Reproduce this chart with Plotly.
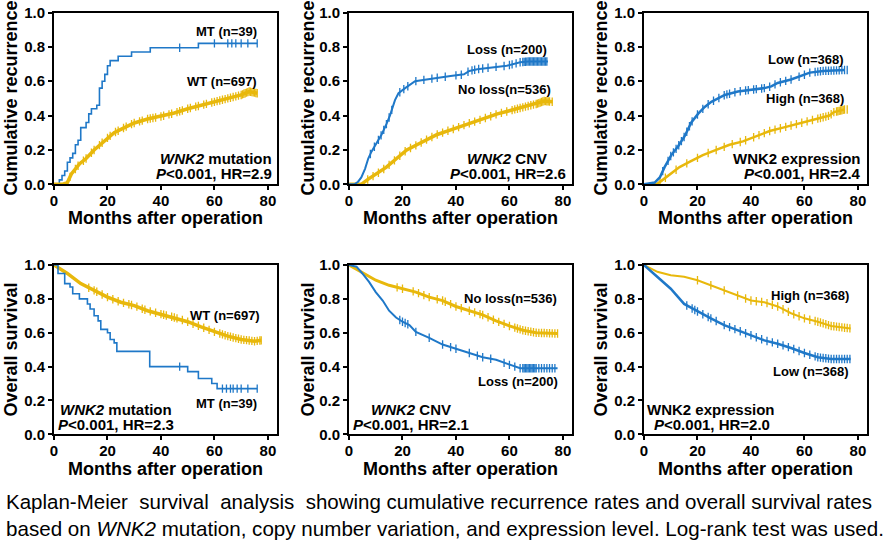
import numpy as np
import plotly.graph_objects as go

BLUE = "#1f78c8"
GOLD = "#e8b80c"

x_ticks = [0, 20, 40, 60, 80]
y_ticks = [0.0, 0.2, 0.4, 0.6, 0.8, 1.0]

# ---------- Panel 1: recurrence by WNK2 mutation ----------
rec_mut_mt_t = [0, 2, 3, 4, 5, 6, 7, 8, 9, 10, 11, 12, 13, 14, 16, 17, 18, 19, 20, 21, 22, 24, 29, 36, 54, 76]
rec_mut_mt_v = [0, .026, .051, .077, .128, .154, .18, .23, .256, .33, .33, .36, .41, .44, .46, .56, .60, .64, .69, .72, .72, .745, .77, .795, .82, .82]
rec_mut_mt_c = [47, 60, 65, 66.5, 68, 70, 72.5, 76]
rec_mut_wt_t = [0, 3, 5, 6.5, 9.6, 12, 15, 17.5, 20, 22.5, 25, 27.5, 30, 35, 40, 45, 50, 55, 60, 65, 70, 73, 76]
rec_mut_wt_v = [0, 0, .01, .06, .12, .15, .20, .235, .27, .30, .32, .34, .357, .38, .395, .415, .44, .46, .48, .50, .52, .54, .53]
rec_mut_wt_c = [6, 8, 9, 11, 12, 14, 15, 17, 18, 20, 21, 23, 24, 26, 27, 29, 30, 32, 33, 35, 36, 37, 38, 40, 41, 43,
                44, 46, 47, 48, 50, 51, 53, 54, 56, 57, 59, 60, 61, 62, 63, 64, 65, 66, 67, 68, 69, 70, 70.5, 71,
                71.5, 72, 72.5, 73, 73.5, 74, 74.5, 75, 75.5, 76]

# ---------- Panel 2: recurrence by WNK2 CNV ----------
rec_cnv_loss_t = [0, 2, 3.4, 4.6, 6, 7.2, 8.4, 10.3, 12.2, 14, 15.3, 17.2, 18.5, 21, 22.9, 24.7, 29, 33, 38, 43, 45, 48, 53, 59, 64, 67, 74.4]
rec_cnv_loss_v = [0, 0, .015, .04, .09, .15, .19, .24, .29, .35, .40, .49, .53, .56, .58, .60, .61, .62, .63, .64, .66, .67, .68, .69, .71, .715, .715]
rec_cnv_loss_c = [8, 9.5, 11, 12, 13, 14, 15, 16, 19, 20.5, 22, 25, 28, 31, 33, 36, 40, 42, 44.5, 46, 47, 48.5, 50, 52,
                  55, 58, 60, 61, 62.5, 64, 65, 65.5, 66, 66.5, 67, 67.5, 68, 68.5, 69, 69.5, 70, 70.5, 71, 71.5, 72,
                  72.5, 73, 73.5, 74]
rec_cnv_no_t = [0, 4.6, 7.2, 10.3, 14, 17.8, 21.6, 25.4, 29, 33, 36.7, 40.5, 44, 48, 51.8, 55.5, 59.3, 63, 66.8, 70.6, 73, 76.2]
rec_cnv_no_v = [0, 0, .03, .06, .10, .15, .20, .23, .26, .29, .31, .33, .35, .37, .39, .41, .425, .44, .455, .47, .485, .48]
rec_cnv_no_c = [7, 9, 11, 13, 15, 17, 19, 21, 23, 25, 27, 29, 31, 33, 35, 37, 39, 41, 43, 45, 47, 49, 51, 53, 55, 57,
                59, 61, 62, 63, 64, 65, 66, 67, 68, 69, 70, 70.5, 71, 71.5, 72, 72.5, 73, 73.5, 74, 74.5, 75, 76]

# ---------- Panel 3: recurrence by WNK2 expression ----------
rec_exp_low_t = [0, 4, 5.9, 7.7, 10.2, 12.7, 15.2, 17.7, 20.2, 22.7, 25.2, 27.7, 30.2, 35.1, 40, 45, 47.6, 50, 55, 58.8, 62, 67, 75]
rec_exp_low_v = [0, .01, .04, .10, .17, .22, .28, .36, .41, .45, .48, .50, .52, .54, .55, .56, .57, .59, .61, .63, .65, .66, .665]
rec_exp_low_c = [7, 9, 10, 11, 12, 13, 14, 15, 16, 17, 18, 20, 22, 24, 26, 28, 30, 31, 32, 34, 36, 38, 39, 41, 42, 44,
                 45, 47, 49, 51, 53, 55, 58, 60, 62, 64, 65, 66, 67, 68, 69, 70, 71, 72, 73, 74, 75, 76]
rec_exp_high_t = [0, 4.6, 6.5, 9, 13.3, 17, 22, 27, 32, 37, 42, 47, 52, 57, 62, 67, 69.4, 71, 75]
rec_exp_high_v = [0, 0, .02, .05, .10, .13, .17, .20, .23, .25, .28, .31, .33, .35, .37, .39, .40, .42, .435]
rec_exp_high_c = [6, 8, 12, 16, 20, 24, 27, 30, 33, 36, 38, 41, 43, 45, 47, 49, 51, 53, 55, 57, 59, 61, 63, 65, 66,
                  67, 68, 69, 70, 71, 72, 72.5, 73, 73.5, 74, 74.5, 75, 76]

# ---------- Panel 4: overall survival by WNK2 mutation ----------
os_mut_mt_t = [0, 1.5, 4, 6, 7, 9.5, 12.5, 13.5, 15, 16.5, 17.5, 18, 20, 21, 22.5, 23.5, 35.8, 50, 54, 59, 61, 76]
os_mut_mt_v = [1, .95, .89, .87, .83, .80, .77, .74, .70, .67, .62, .62, .60, .56, .54, .49, .40, .37, .33, .30, .27, .27]
os_mut_mt_c = [47, 63, 64.5, 66, 67, 68.5, 70, 72.5, 76]
os_mut_wt_t = [0, 5, 10, 15, 20, 25, 30, 35, 40, 45, 50, 55, 60, 65, 70, 75, 77.5]
os_mut_wt_v = [1, .95, .89, .85, .81, .78, .76, .73, .71, .69, .665, .635, .605, .58, .56, .55, .555]
os_mut_wt_c = [13, 15, 16, 18, 20, 22, 24, 26, 28, 29, 31, 33, 34, 36, 38, 40, 41, 42, 44, 45, 46, 48, 50, 52, 54,
               56, 58, 60, 62, 63, 64, 65, 66, 67, 68, 69, 70, 71, 72, 73, 74, 75, 76, 77, 77.5]

# ---------- Panel 5: overall survival by WNK2 CNV ----------
os_cnv_no_t = [0, 5, 10, 15, 20, 25, 30, 35, 40, 45, 50, 55, 60, 65, 70, 78]
os_cnv_no_v = [1, .955, .91, .88, .86, .84, .81, .79, .755, .73, .705, .67, .64, .615, .60, .595]
os_cnv_no_c = [18, 20, 24, 26, 28, 30, 33, 35, 36, 38, 40, 42, 45, 47, 49, 50, 52, 54, 56, 58, 60, 62, 63, 64, 65,
               66, 67, 68, 69, 70, 71, 72, 73, 74, 75, 76, 77, 78]
os_cnv_loss_t = [0, 2.8, 5, 7.5, 10, 12.6, 15, 17.6, 20, 22.6, 25, 30, 35, 40, 45, 50, 55, 60, 64, 78]
os_cnv_loss_v = [1, .99, .95, .90, .84, .79, .73, .69, .665, .645, .605, .57, .53, .505, .48, .455, .44, .41, .39, .39]
os_cnv_loss_c = [19, 20, 21, 22, 25, 30, 35, 38, 40, 45, 48, 50, 53, 58, 60, 62, 64, 65, 65.5, 66, 66.5, 67, 67.5,
                 68, 68.5, 69, 69.5, 70, 71, 72, 73, 74, 75, 76, 77]

# ---------- Panel 6: overall survival by WNK2 expression ----------
os_exp_high_t = [0, 5, 10, 15, 20, 25, 30, 35, 40, 45, 50, 55, 60, 65, 70, 77.3]
os_exp_high_v = [1, .96, .94, .93, .91, .88, .85, .82, .79, .78, .755, .715, .685, .665, .64, .625]
os_exp_high_c = [20, 25, 30, 35, 38, 40, 42, 44, 46, 48, 50, 52, 54, 56, 58, 60, 62, 64, 65, 66, 67, 68, 69, 70,
                 71, 72, 73, 74, 75, 76, 77]
os_exp_low_t = [0, 5, 10, 15, 20, 25, 30, 35, 40, 45, 50, 55, 60, 65, 70, 77.3]
os_exp_low_v = [1, .93, .86, .77, .725, .685, .645, .615, .585, .555, .535, .51, .48, .455, .445, .445]
os_exp_low_c = [16, 18, 19, 20, 22, 24, 25, 27, 30, 32, 34, 36, 38, 40, 42, 44, 46, 48, 50, 52, 54, 56, 58, 60, 62,
                64, 65, 66, 67, 68, 69, 70, 71, 72, 73, 74, 75, 76, 77]

W, H = 890, 544
col_px = [(54, 277), (349, 572), (644, 867)]
row_px = [(12.5, 184.3), (265, 434.3)]
XMAX = 83.4

fig = go.Figure()

def step_lookup(t, v, c):
    t = np.asarray(t); v = np.asarray(v)
    idx = np.searchsorted(t, np.asarray(c), side="right") - 1
    return v[np.clip(idx, 0, len(v) - 1)]

def add_curve(k, t, v, cens, color, width, step):
    xa, ya = f"x{k}" if k > 1 else "x", f"y{k}" if k > 1 else "y"
    fig.add_trace(go.Scatter(x=t, y=v, mode="lines", xaxis=xa, yaxis=ya,
                             line=dict(color=color, width=width, shape="hv" if step else "linear"),
                             showlegend=False, hoverinfo="skip"))
    cy = step_lookup(t, v, cens) if step else np.interp(cens, t, v)
    fig.add_trace(go.Scatter(x=cens, y=cy, mode="markers", xaxis=xa, yaxis=ya,
                             marker=dict(symbol="line-ns", size=6, line=dict(color=color, width=1.3)),
                             showlegend=False, hoverinfo="skip"))

add_curve(1, rec_mut_mt_t, rec_mut_mt_v, rec_mut_mt_c, BLUE, 1.6, True)
add_curve(1, rec_mut_wt_t, rec_mut_wt_v, rec_mut_wt_c, GOLD, 3.5, False)
add_curve(2, rec_cnv_no_t, rec_cnv_no_v, rec_cnv_no_c, GOLD, 3.5, False)
add_curve(2, rec_cnv_loss_t, rec_cnv_loss_v, rec_cnv_loss_c, BLUE, 2, False)
add_curve(3, rec_exp_high_t, rec_exp_high_v, rec_exp_high_c, GOLD, 2.5, False)
add_curve(3, rec_exp_low_t, rec_exp_low_v, rec_exp_low_c, BLUE, 2.5, False)
add_curve(4, os_mut_wt_t, os_mut_wt_v, os_mut_wt_c, GOLD, 3.5, False)
add_curve(4, os_mut_mt_t, os_mut_mt_v, os_mut_mt_c, BLUE, 1.6, True)
add_curve(5, os_cnv_no_t, os_cnv_no_v, os_cnv_no_c, GOLD, 3, False)
add_curve(5, os_cnv_loss_t, os_cnv_loss_v, os_cnv_loss_c, BLUE, 2, False)
add_curve(6, os_exp_high_t, os_exp_high_v, os_exp_high_c, GOLD, 2, False)
add_curve(6, os_exp_low_t, os_exp_low_v, os_exp_low_c, BLUE, 2.5, False)

FONT = "Liberation Sans, Arial, sans-serif"
tickfont = dict(family=FONT, size=15, color="black", weight="bold")
layout = dict(width=W, height=H, margin=dict(l=0, r=0, t=0, b=0, autoexpand=False),
              paper_bgcolor="white", plot_bgcolor="white", showlegend=False)

for k in range(1, 7):
    r, c = (k - 1) // 3, (k - 1) % 3
    (x0, x1), (y0, y1) = col_px[c], row_px[r]
    axcommon = dict(showgrid=False, zeroline=False, showline=True, linecolor="black", linewidth=2,
                    mirror=True, ticks="outside", ticklen=4, tickwidth=2, tickcolor="black",
                    tickfont=tickfont, automargin=False)
    sx = "" if k == 1 else str(k)
    layout[f"xaxis{sx}"] = dict(domain=[x0 / W, x1 / W], range=[0, XMAX], tickvals=x_ticks,
                                anchor=f"y{sx}", ticklabelstandoff=-2, **axcommon)
    layout[f"yaxis{sx}"] = dict(domain=[1 - y1 / H, 1 - y0 / H], range=[0, 1], tickvals=y_ticks,
                                tickformat=".1f", anchor=f"x{sx}", **axcommon)

fig.update_layout(**layout)

ann = []
def A(text, x, y, xref="paper", yref="paper", size=13, xanchor="center", yanchor="middle", angle=0, weight="bold"):
    ann.append(dict(text=text, x=x, y=y, xref=xref, yref=yref, showarrow=False, xanchor=xanchor,
                    yanchor=yanchor, textangle=angle, borderpad=0,
                    font=dict(family=FONT, size=size, color="black", weight=weight)))

# axis titles
for c, (x0, x1) in enumerate(col_px):
    ytx = [11, 308, 601][c]
    A("Cumulative recurrence", ytx / W, 1 - 98.5 / H, size=18, angle=-90)
    A("Overall survival", ytx / W, 1 - 349.6 / H, size=18, angle=-90)
    A("Months after operation", (x0 + x1) / 2 / W, 1 - 218.5 / H, size=18)
    A("Months after operation", (x0 + x1) / 2 / W, 1 - 469 / H, size=18)

# panel labels (data coordinates)
def P(k, text, x, y, size=13, xanchor="right"):
    sx = "" if k == 1 else str(k)
    A(text, x, y, xref=f"x{sx}", yref=f"y{sx}", size=size, xanchor=xanchor)

P(1, "MT (n=39)", 76.3, 0.89)
P(1, "WT (n=697)", 76.3, 0.60)
P(1, "<i>WNK2</i> mutation", 82, 0.148, size=15)
P(1, "<i>P</i>&lt;0.001, HR=2.9", 82, 0.06, size=15)
P(2, "Loss (n=200)", 74.6, 0.785)
P(2, "No loss(n=536)", 75.9, 0.55)
P(2, "<i>WNK2</i> CNV", 74.6, 0.148, size=15)
P(2, "<i>P</i>&lt;0.001, HR=2.6", 81.5, 0.06, size=15)
P(3, "Low (n=368)", 75, 0.727)
P(3, "High (n=368)", 75, 0.497)
P(3, "WNK2 expression", 81.6, 0.148, size=15)
P(3, "<i>P</i>&lt;0.001, HR=2.4", 81.6, 0.06, size=15)
P(4, "WT (n=697)", 77.5, 0.70)
P(4, "MT (n=39)", 76.3, 0.183)
P(4, "<i>WNK2</i> mutation", 23.3, 0.144, size=15, xanchor="center")
P(4, "<i>P</i>&lt;0.001, HR=2.3", 23.3, 0.055, size=15, xanchor="center")
P(5, "No loss(n=536)", 78.1, 0.80)
P(5, "Loss (n=200)", 78.4, 0.31)
P(5, "<i>WNK2</i> CNV", 23, 0.144, size=15, xanchor="center")
P(5, "<i>P</i>&lt;0.001, HR=2.1", 23, 0.055, size=15, xanchor="center")
P(6, "High (n=368)", 76.9, 0.82)
P(6, "Low (n=368)", 76.9, 0.37)
P(6, "WNK2 expression", 25, 0.144, size=15, xanchor="center")
P(6, "<i>P</i>&lt;0.001, HR=2.0", 25.5, 0.055, size=15, xanchor="center")

# caption
nb = "\u00a0"
A(f"Kaplan-Meier {nb}survival {nb}analysis {nb}showing cumulative recurrence rates and overall survival rates",
  5 / W, 1 - 501 / H, size=20.5, xanchor="left", weight="normal")
A("based on <i>WNK2</i> mutation, copy number variation, and expression level. Log-rank test was used.",
  5 / W, 1 - 528 / H, size=20.6, xanchor="left", weight="normal")

fig.update_layout(annotations=ann)
fig.write_html("out.html")
